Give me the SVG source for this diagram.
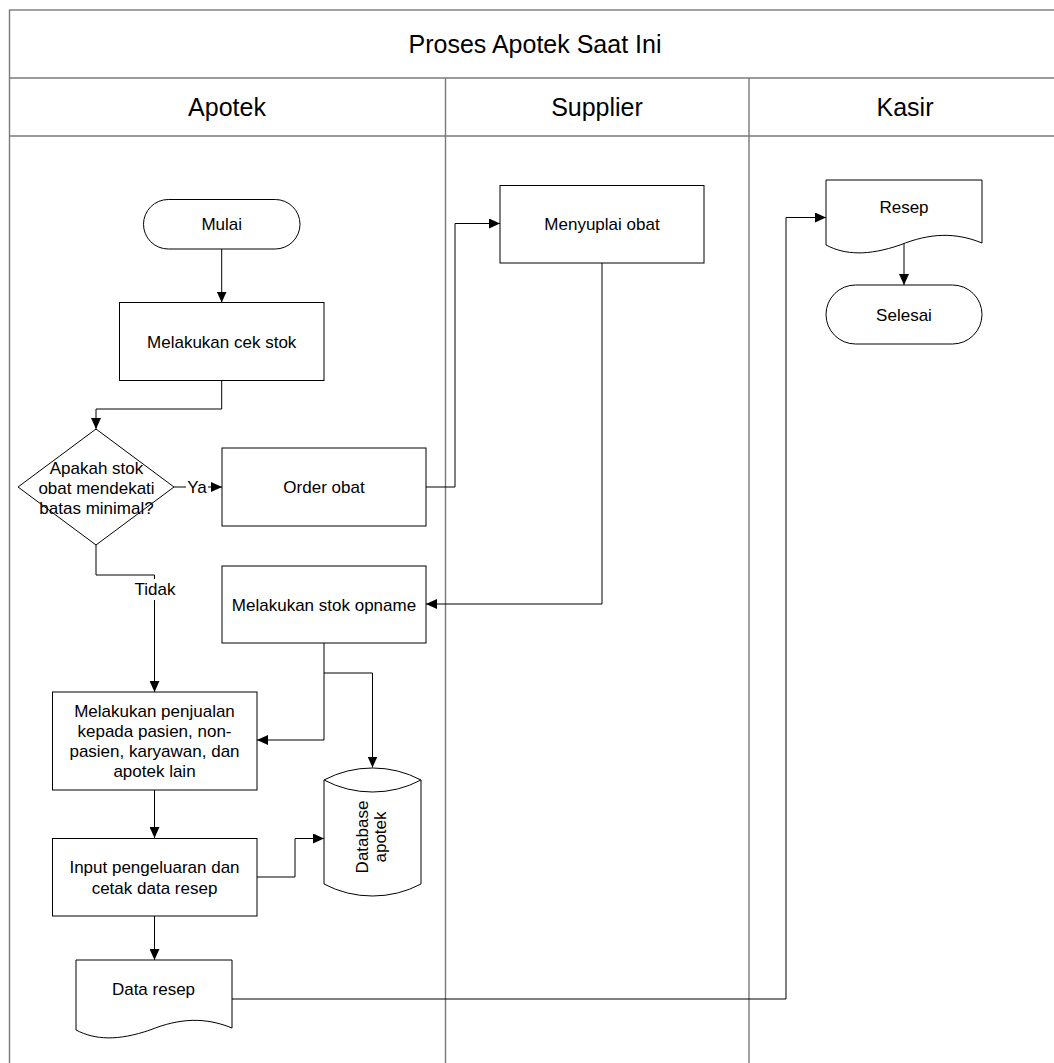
<svg xmlns="http://www.w3.org/2000/svg" width="1054" height="1063" viewBox="0 0 1054 1063">
  <style>
    .lane { fill: none; stroke: #7a7a7a; stroke-width: 1.4; }
    .node { fill: #ffffff; stroke: #000000; stroke-width: 1; }
    .conn { fill: none; stroke: #000000; stroke-width: 1; marker-end: url(#arrow); }
    .head { font-family: "Liberation Sans", Arial, sans-serif; font-size: 25px; fill: #000; text-anchor: middle; }
    .lbl { font-family: "Liberation Sans", Arial, sans-serif; font-size: 17px; fill: #000; text-anchor: middle; }
  </style>
  <defs>
    <marker id="arrow" viewBox="0 0 11 10" refX="11" refY="5" markerWidth="11" markerHeight="10" markerUnits="userSpaceOnUse" orient="auto">
      <path d="M0,0 L11,5 L0,10 Z" fill="#000"/>
    </marker>
  </defs>

  <rect width="1054" height="1063" fill="#ffffff"/>

  <!-- swimlane frame -->
  <g id="pool">
    <rect class="lane" x="9.5" y="10" width="1052" height="1100"/>
    <line class="lane" x1="9.5" y1="78" x2="1062" y2="78"/>
    <line class="lane" x1="9.5" y1="136" x2="1062" y2="136"/>
    <line class="lane" x1="445.5" y1="78" x2="445.5" y2="1070"/>
    <line class="lane" x1="749" y1="78" x2="749" y2="1070"/>
    <text class="head" x="535" y="53">Proses Apotek Saat Ini</text>
    <text class="head" x="227" y="116">Apotek</text>
    <text class="head" x="597" y="116">Supplier</text>
    <text class="head" x="905" y="116">Kasir</text>
  </g>

  <!-- connectors -->
  <g id="connectors">
    <path class="conn" d="M221.7,249 V302.5"/>
    <path class="conn" d="M221.7,381 V409 H96 V429"/>
    <path class="conn" d="M174,487 H222"/>
    <path class="conn" d="M426,487 H455 V223.5 H500"/>
    <path class="conn" d="M602,263 V604 H426"/>
    <path class="conn" d="M96,545 V575 H154.5 V692"/>
    <path class="conn" d="M324,643 V740 H257"/>
    <path class="conn" d="M324,673 H372.5 V767.5"/>
    <path class="conn" d="M154.5,790 V838"/>
    <path class="conn" d="M257,877 H295 V838.5 H324"/>
    <path class="conn" d="M154.5,916 V960"/>
    <path class="conn" d="M232,999 H786 V217.5 H826"/>
    <path class="conn" d="M904,243 V285"/>
    <!-- branch labels -->
    <rect x="186" y="478" width="22" height="18" fill="#fff"/>
    <text class="lbl" x="197" y="493">Ya</text>
    <rect x="133" y="579" width="43" height="21" fill="#fff"/>
    <text class="lbl" x="155" y="595">Tidak</text>
  </g>

  <g id="mulai">
    <rect class="node" x="143.5" y="199.5" width="156.5" height="49.5" rx="24.75"/>
    <text class="lbl" x="221.7" y="230">Mulai</text>
  </g>

  <g id="cek-stok">
    <rect class="node" x="119.5" y="302.5" width="204.5" height="78"/>
    <text class="lbl" x="221.7" y="347.5">Melakukan cek stok</text>
  </g>

  <g id="cek-batas">
    <polygon class="node" points="96,429 174,487 96,545 18,487" fill="none"/>
    <text class="lbl" x="96.5" y="473.5">Apakah stok</text>
    <text class="lbl" x="96.5" y="493.5">obat mendekati</text>
    <text class="lbl" x="96.5" y="514">batas minimal?</text>
  </g>

  <g id="order-obat">
    <rect class="node" x="222" y="448" width="204" height="78"/>
    <text class="lbl" x="324" y="493">Order obat</text>
  </g>

  <g id="menyuplai-obat">
    <rect class="node" x="500" y="185.5" width="204" height="77.5"/>
    <text class="lbl" x="602" y="230">Menyuplai obat</text>
  </g>

  <g id="stok-opname">
    <rect class="node" x="222" y="566" width="204" height="77"/>
    <text class="lbl" x="324" y="610.5">Melakukan stok opname</text>
  </g>

  <g id="penjualan">
    <rect class="node" x="52.5" y="692" width="204.5" height="98"/>
    <text class="lbl" x="154.5" y="717">Melakukan penjualan</text>
    <text class="lbl" x="154.5" y="737">kepada pasien, non-</text>
    <text class="lbl" x="154.5" y="757">pasien, karyawan, dan</text>
    <text class="lbl" x="154.5" y="777">apotek lain</text>
  </g>

  <g id="input-pengeluaran">
    <rect class="node" x="52.5" y="838.5" width="204.5" height="77.5"/>
    <text class="lbl" x="154.5" y="872.5">Input pengeluaran dan</text>
    <text class="lbl" x="154.5" y="893.5">cetak data resep</text>
  </g>

  <g id="database-apotek">
    <path class="node" d="M324,780 A104,104 0 0 1 421,780 V884 A104,104 0 0 1 324,884 Z"/>
    <path class="node" d="M421,780 A104,104 0 0 1 324,780" fill="none"/>
    <g transform="translate(371,837) rotate(-90)">
      <text class="lbl" x="0" y="-3">Database</text>
      <text class="lbl" x="0" y="15">apotek</text>
    </g>
  </g>

  <g id="data-resep">
    <path class="node" d="M76,960 H232 V1028 C205,1017 180,1018 150,1030 C118,1041 95,1040 76,1030 Z"/>
    <text class="lbl" x="153.5" y="995">Data resep</text>
  </g>

  <g id="resep">
    <path class="node" d="M826,180 H982 V243 C955,232 930,233 900,245 C868,256 845,255 826,245 Z"/>
    <text class="lbl" x="904" y="213">Resep</text>
  </g>

  <g id="selesai">
    <rect class="node" x="826" y="285" width="156" height="59" rx="29.5"/>
    <text class="lbl" x="904" y="320.5">Selesai</text>
  </g>
</svg>
